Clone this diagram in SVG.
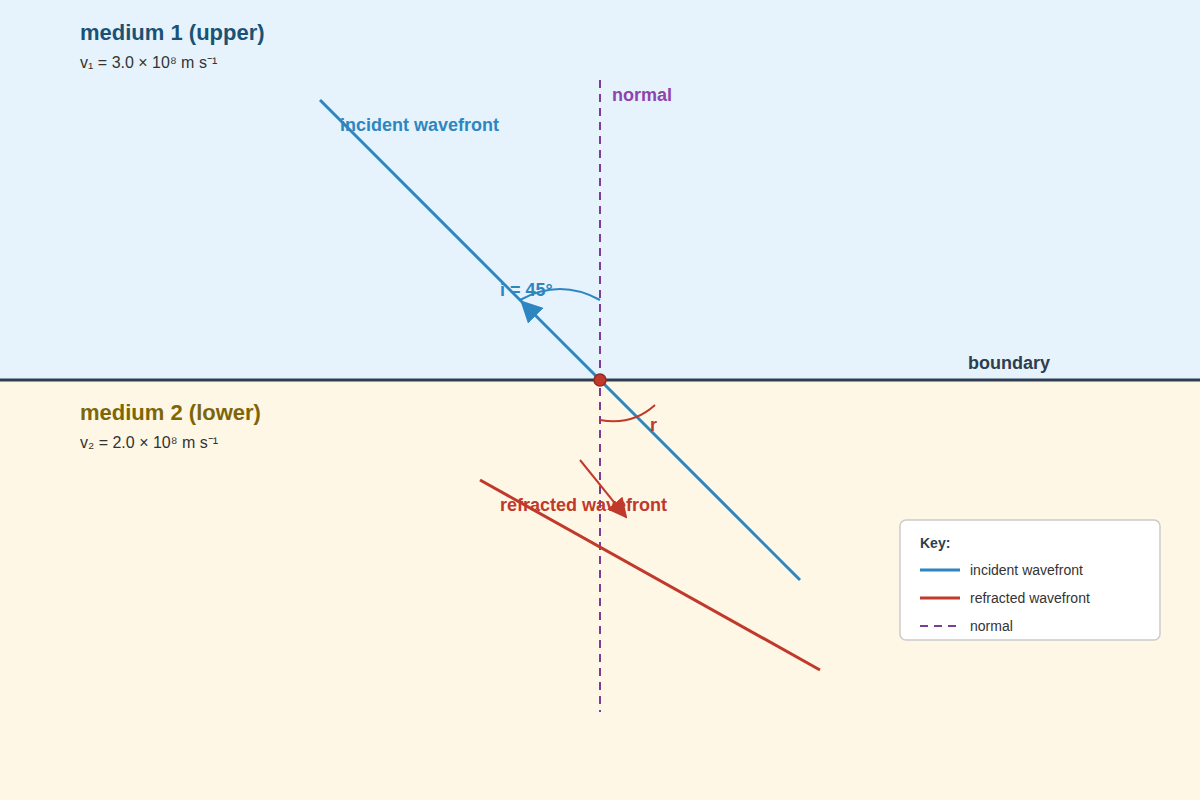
<svg xmlns="http://www.w3.org/2000/svg" width="1200" height="800" viewBox="0 0 1200 800">
<style>
text{font-family:"Liberation Sans",Arial,sans-serif}
.b{font-weight:bold}
</style>
<defs>
<marker id="ab" viewBox="0 0 10 10" refX="5" refY="5" markerWidth="22" markerHeight="22" markerUnits="userSpaceOnUse" orient="auto"><path d="M0,0L10,5L0,10z" fill="#2e86c1"/></marker>
<marker id="ar" viewBox="0 0 10 10" refX="9" refY="5" markerWidth="20" markerHeight="20" markerUnits="userSpaceOnUse" orient="auto"><path d="M0,0L10,5L0,10z" fill="#c0392b"/></marker>
</defs>
<g id="media">
<rect x="0" y="0" width="1200" height="380" fill="#e6f3fc"/>
<rect x="0" y="380" width="1200" height="420" fill="#fef7e6"/>
<text x="80" y="40" font-size="22" class="b" fill="#1a5276">medium 1 (upper)</text>
<text x="80" y="68" font-size="16" fill="#333">v₁ = 3.0 × 10⁸ m s⁻¹</text>
<text x="80" y="420" font-size="22" class="b" fill="#7d6608">medium 2 (lower)</text>
<text x="80" y="448" font-size="16" fill="#333">v₂ = 2.0 × 10⁸ m s⁻¹</text>
</g>
<g id="connectors">
<line x1="600" y1="80" x2="600" y2="712" stroke="#7d3c98" stroke-width="2" stroke-dasharray="8,6"/>
<line x1="0" y1="380" x2="1200" y2="380" stroke="#2c3e50" stroke-width="3"/>
<line x1="320" y1="100" x2="800" y2="580" stroke="#2e86c1" stroke-width="3"/>
<path d="M600,380 L528,308" stroke="none" fill="none" marker-end="url(#ab)"/>
<line x1="480" y1="480" x2="820" y2="670" stroke="#c0392b" stroke-width="3"/>
<line x1="580" y1="460" x2="626" y2="517" stroke="#c0392b" stroke-width="2" marker-end="url(#ar)"/>
<path d="M600,300 Q560,278 520,300" fill="none" stroke="#2e86c1" stroke-width="2"/>
<path d="M600,420 Q632,426 655,405" fill="none" stroke="#c0392b" stroke-width="2"/>
<circle cx="600" cy="380" r="6" fill="#c0392b" stroke="#922b21" stroke-width="1.5"/>
</g>
<g id="labels">
<text x="612" y="101" font-size="18" class="b" fill="#8e44ad">normal</text>
<text x="340" y="131" font-size="18" class="b" fill="#2e86c1">incident wavefront</text>
<text x="500" y="296" font-size="18" class="b" fill="#2e86c1">i = 45°</text>
<text x="968" y="369" font-size="18" class="b" fill="#2c3e50">boundary</text>
<text x="650" y="431" font-size="18" class="b" fill="#c0392b">r</text>
<text x="500" y="511" font-size="18" class="b" fill="#c0392b">refracted wavefront</text>
</g>
<g id="key">
<rect x="900" y="520" width="260" height="120" rx="6" fill="#fff" stroke="#ccc" stroke-width="1.5"/>
<text x="920" y="548" font-size="14" class="b" fill="#2c3e50">Key:</text>
<line x1="920" y1="570" x2="960" y2="570" stroke="#2e86c1" stroke-width="3"/>
<text x="970" y="575" font-size="14" fill="#333">incident wavefront</text>
<line x1="920" y1="598" x2="960" y2="598" stroke="#c0392b" stroke-width="3"/>
<text x="970" y="603" font-size="14" fill="#333">refracted wavefront</text>
<line x1="920" y1="626" x2="960" y2="626" stroke="#7d3c98" stroke-width="2" stroke-dasharray="8,6"/>
<text x="970" y="631" font-size="14" fill="#333">normal</text>
</g>
</svg>
